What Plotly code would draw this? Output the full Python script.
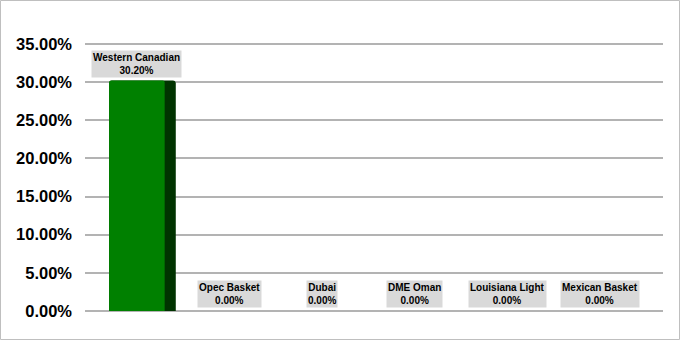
import plotly.graph_objects as go

categories = ["Western Canadian", "Opec Basket", "Dubai", "DME Oman", "Louisiana Light", "Mexican Basket"]
values = [30.20, 0.00, 0.00, 0.00, 0.00, 0.00]
tick_vals = [0, 5, 10, 15, 20, 25, 30, 35]
tick_text = ["<b>%.2f%%</b>" % v for v in tick_vals]

W, H = 681, 341
ml, mr, mt, mb = 85, 18, 41, 30
pw, ph = W - ml - mr, H - mt - mb
y_top = 35 * ph / (ph - 3)

xs = list(range(len(categories)))
font = "Liberation Sans, Arial, sans-serif"

fig = go.Figure()
# dark side face
fig.add_trace(go.Bar(x=xs, y=values, width=0.72, offset=-0.30,
                     marker=dict(color="#003300", line=dict(width=0), cornerradius=3),
                     hoverinfo="skip", showlegend=False))
# front face
fig.add_trace(go.Bar(x=xs, y=values, width=0.60, offset=-0.30,
                     marker=dict(color="#008000", line=dict(width=0), cornerradius=2),
                     showlegend=False))

for i, (c, v) in enumerate(zip(categories, values)):
    fig.add_annotation(x=i, y=v, xref="x", yref="y", yanchor="bottom",
                       text="<b>%s</b><br><b>%.2f%%</b>" % (c, v),
                       showarrow=False, yshift=3, bgcolor="#d9d9d9",
                       borderpad=1, font=dict(family=font, size=10, color="#000000"))

def px(x):
    return (x - ml) / pw

def py(y):
    return (H - mb - y) / ph

fig.add_shape(type="rect", xref="paper", yref="paper",
              x0=px(0.5), x1=px(W - 1.5), y0=py(H - 1.5), y1=py(0.5),
              line=dict(color="#bfbfbf", width=1), fillcolor="rgba(0,0,0,0)", layer="below")

fig.update_layout(
    width=W, height=H, margin=dict(l=ml, r=mr, t=mt, b=mb),
    paper_bgcolor="white", plot_bgcolor="white", barmode="overlay",
    xaxis=dict(range=[-0.56, 5.68], showticklabels=False, showgrid=False,
               zeroline=False, showline=False, ticks=""),
    yaxis=dict(range=[0, y_top], tickvals=tick_vals, ticktext=tick_text,
               showgrid=True, gridcolor="#b3b3b3", gridwidth=1.5,
               zeroline=True, zerolinecolor="#b3b3b3", zerolinewidth=1.5,
               showline=False, ticks="", ticklabelstandoff=12,
               tickfont=dict(family=font, size=16.5, color="#000000", weight="bold")),
    font=dict(family=font),
)

fig.write_html("out.html")
